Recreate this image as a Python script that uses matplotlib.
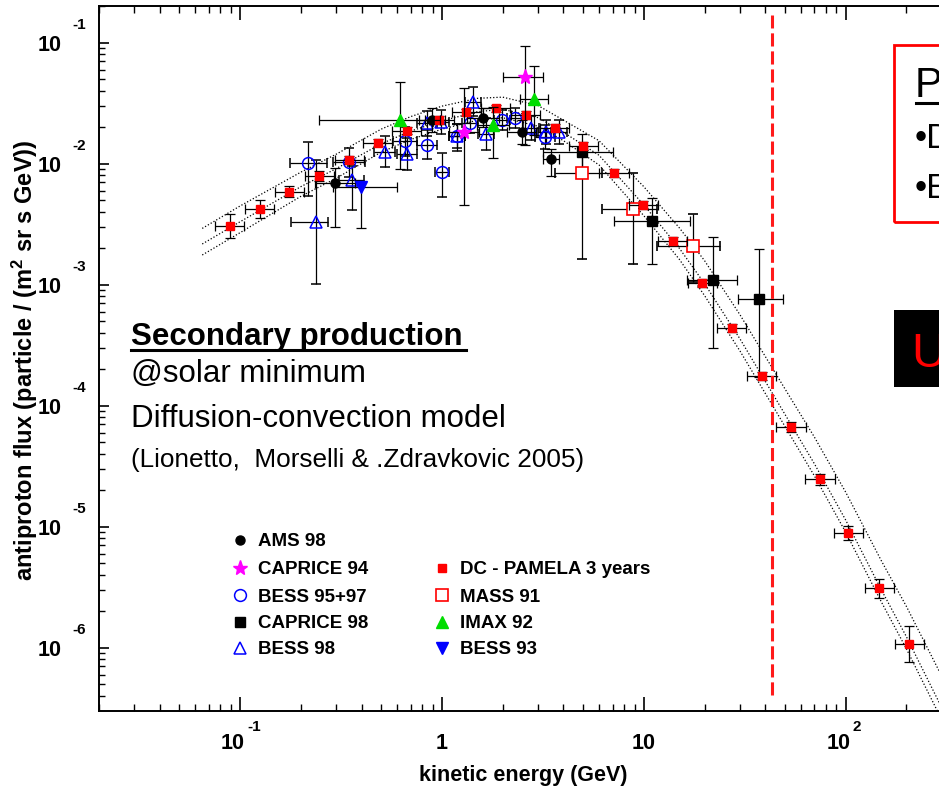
import numpy as np
import matplotlib
matplotlib.use('Agg')
import matplotlib.pyplot as plt
import matplotlib.ticker as mticker
from matplotlib import font_manager
from matplotlib.lines import Line2D
from matplotlib.patches import Rectangle

plt.rcParams['font.family'] = ['Liberation Sans', 'DejaVu Sans']
plt.rcParams['mathtext.fontset'] = 'custom'
plt.rcParams['mathtext.rm'] = 'Liberation Sans'
plt.rcParams['mathtext.bf'] = 'Liberation Sans:bold'
plt.rcParams['mathtext.default'] = 'bf'

# ── Model band (diffusion-convection, three dotted curves) ────────────────────
E_MODEL = [0.065, 0.1, 0.2, 0.3, 0.5, 0.7, 1.0, 1.5, 2.0, 3.0, 4.0, 6.0,
           10, 15, 20, 30, 50, 70, 100, 150, 200, 300, 500]
MODEL_UP = [2.92e-3, 4.47e-3, 8.51e-3, 1.20e-2, 1.93e-2, 2.45e-2, 2.99e-2, 3.47e-2,
            3.55e-2, 3.02e-2, 2.29e-2, 1.55e-2, 6.46e-3, 2.95e-3, 1.58e-3, 5.62e-4,
            1.38e-4, 5.5e-5, 1.93e-5, 5.25e-6, 2.19e-6, 5.75e-7, 1.05e-7]
MODEL_MID = [2.17e-3, 3.31e-3, 6.46e-3, 9.12e-3, 1.46e-2, 1.86e-2, 2.26e-2, 2.69e-2,
             2.82e-2, 2.40e-2, 1.82e-2, 1.175e-2, 4.57e-3, 2.0e-3, 1.02e-3, 3.55e-4,
             8.5e-5, 3.31e-5, 1.135e-5, 3.02e-6, 1.23e-6, 3.16e-7, 5.6e-8]
MODEL_LO = [1.76e-3, 2.69e-3, 5.37e-3, 7.59e-3, 1.245e-2, 1.585e-2, 1.93e-2, 2.29e-2,
            2.40e-2, 2.04e-2, 1.55e-2, 9.77e-3, 3.72e-3, 1.62e-3, 8.13e-4, 2.82e-4,
            6.76e-5, 2.63e-5, 9.0e-6, 2.40e-6, 9.77e-7, 2.51e-7, 4.47e-8]

# ── Data: energy (GeV), flux, errors in dex (lo / hi) ─────────────────────────
PAM_E = [0.089, 0.125, 0.175, 0.247, 0.347, 0.481, 0.669, 0.97, 1.32, 1.85, 2.60, 3.62,
         5.02, 7.12, 9.94, 13.9, 19.5, 27.3, 38.3, 53.6, 74.6, 103, 147, 206]
PAM_F = [3.07e-3, 4.22e-3, 5.87e-3, 7.96e-3, 1.07e-2, 1.49e-2, 1.87e-2, 2.30e-2,
         2.66e-2, 2.87e-2, 2.53e-2, 1.98e-2, 1.40e-2, 8.4e-3, 4.6e-3, 2.30e-3,
         1.03e-3, 4.4e-4, 1.76e-4, 6.7e-5, 2.46e-5, 8.9e-6, 3.1e-6, 1.07e-6]
PAM_XERR = [0.072, 0.072, 0.072, 0.072, 0.072, 0.072, 0.072, 0.072, 0.072, 0.072, 0.072, 0.072,
            0.072, 0.072, 0.072, 0.072, 0.072, 0.072, 0.072, 0.072, 0.072, 0.072, 0.072, 0.072]
PAM_YERR = [0.10, 0.075, 0.045, 0.04, 0.035, 0.03, 0.03, 0.03, 0.03, 0.03, 0.03, 0.03,
            0.03, 0.03, 0.03, 0.03, 0.035, 0.035, 0.035, 0.04, 0.045, 0.06, 0.08, 0.15]

AMS_E = [0.295, 0.896, 1.60, 2.48, 3.48]
AMS_F = [6.99e-3, 2.30e-2, 2.40e-2, 1.84e-2, 1.094e-2]
AMS_XERR = [0.10, 0.065, 0.08, 0.07, 0.04]
AMS_YLO = [0.37, 0.10, 0.08, 0.10, 0.14]
AMS_YHI = [0.12, 0.10, 0.08, 0.10, 0.08]

C94_E = [1.29, 2.58]
C94_F = [1.83e-2, 5.20e-2]
C94_XLO = [0.075, 0.11]
C94_XHI = [0.075, 0.09]
C94_YLO = [0.60, 0.56]
C94_YHI = [0.36, 0.26]

B9597_E = [0.218, 0.347, 0.656, 0.844, 1.0, 1.19, 1.38, 1.98, 2.30, 3.24]
B9597_F = [1.004e-2, 1.03e-2, 1.53e-2, 1.43e-2, 8.62e-3, 1.69e-2, 2.17e-2, 2.30e-2,
           2.39e-2, 1.66e-2]
B9597_XERR = [0.09, 0.08, 0.06, 0.05, 0.036, 0.04, 0.04, 0.04, 0.04, 0.05]
B9597_YLO = [0.27, 0.12, 0.12, 0.12, 0.21, 0.10, 0.08, 0.08, 0.08, 0.10]
B9597_YHI = [0.18, 0.12, 0.12, 0.12, 0.155, 0.10, 0.08, 0.08, 0.08, 0.10]

C98_E = [4.92, 11.0, 22.0, 37.2]
C98_F = [1.257e-2, 3.38e-3, 1.094e-3, 7.66e-4]
C98_XLO = [0.19, 0.19, 0.13, 0.105]
C98_XHI = [0.155, 0.187, 0.12, 0.12]
C98_YLO = [0.15, 0.36, 0.564, 0.645]
C98_YHI = [0.146, 0.19, 0.353, 0.413]

B98_E = [0.238, 0.357, 0.52, 0.672, 0.844, 0.99, 1.19, 1.43, 1.65, 2.76, 3.28, 3.80]
B98_F = [3.32e-3, 7.33e-3, 1.26e-2, 1.20e-2, 2.15e-2, 2.22e-2, 1.69e-2, 3.25e-2,
         1.76e-2, 1.98e-2, 1.83e-2, 1.84e-2]
B98_XLO = [0.124, 0.06, 0.05, 0.05, 0.05, 0.04, 0.04, 0.04, 0.04, 0.04, 0.04, 0.04]
B98_XHI = [0.06, 0.06, 0.05, 0.05, 0.05, 0.04, 0.04, 0.04, 0.04, 0.04, 0.04, 0.04]
B98_YLO = [0.515, 0.25, 0.13, 0.13, 0.10, 0.10, 0.12, 0.12, 0.13, 0.10, 0.10, 0.10]
B98_YHI = [0.51, 0.12, 0.13, 0.13, 0.10, 0.10, 0.10, 0.12, 0.13, 0.10, 0.10, 0.10]

MASS_E = [4.96, 8.87, 17.6]
MASS_F = [8.33e-3, 4.20e-3, 2.09e-3]
MASS_XLO = [0.135, 0.153, 0.18]
MASS_XHI = [0.096, 0.116, 0.133]
MASS_YLO = [0.71, 0.455, 0.30]
MASS_YHI = [0.19, 0.30, 0.264]

IMAX_E = [0.62, 1.79, 2.87]
IMAX_F = [2.30e-2, 2.09e-2, 3.42e-2]
IMAX_XLO = [0.40, 0.08, 0.07]
IMAX_XHI = [0.20, 0.08, 0.07]
IMAX_YLO = [0.405, 0.27, 0.30]
IMAX_YHI = [0.317, 0.15, 0.27]

B93_E = [0.397]
B93_F = [6.38e-3]
B93_XLO = [0.14]
B93_XHI = [0.178]
B93_YLO = [0.337]
B93_YHI = [0.044]

CUT_ENERGY = 43.2

XTICK_VALUES = [0.1, 1, 10, 100]
XTICK_BASE = ['10', '1', '10', '10']
XTICK_EXP = ['-1', '', '', '2']
YTICK_VALUES = [1e-1, 1e-2, 1e-3, 1e-4, 1e-5, 1e-6]
YTICK_EXP = ['-1', '-2', '-3', '-4', '-5', '-6']

LEGEND_LEFT = ['AMS 98', 'CAPRICE 94', 'BESS 95+97', 'CAPRICE 98', 'BESS 98']
LEGEND_RIGHT = ['DC - PAMELA 3 years', 'MASS 91', 'IMAX 92', 'BESS 93']

# ── Figure ─────────────────────────────────────────────────────────────────────
W, H = 939, 788
fig = plt.figure(figsize=(W / 100, H / 100), dpi=100)
AX_L, AX_R, AX_T, AX_B = 98.9, 986.8, 6.0, 710.7
ax = fig.add_axes([AX_L / W, 1 - AX_B / H, (AX_R - AX_L) / W, (AX_B - AX_T) / H])


def fx(px):
    return px / W


def fy(py):
    return 1 - py / H


ax.set_xscale('log')
ax.set_yscale('log')
ax.set_xlim(0.02, 500)
ax.set_ylim(3.015e-7, 0.2011)

ax.xaxis.set_major_locator(mticker.LogLocator(base=10, numticks=20))
ax.xaxis.set_minor_locator(mticker.LogLocator(base=10, subs=np.arange(2, 10), numticks=20))
ax.yaxis.set_major_locator(mticker.LogLocator(base=10, numticks=20))
ax.yaxis.set_minor_locator(mticker.LogLocator(base=10, subs=np.arange(2, 10), numticks=20))
ax.tick_params(axis='x', which='major', direction='in', length=10, width=1.2,
               top=True, bottom=True, labelbottom=False)
ax.tick_params(axis='x', which='minor', direction='in', length=5, width=1.0, top=True)
ax.tick_params(axis='y', which='major', direction='in', length=7, width=1.2,
               right=False, labelleft=False)
ax.tick_params(axis='y', which='minor', direction='in', length=4.5, width=1.0, right=False)
for sp in ax.spines.values():
    sp.set_linewidth(1.4)

# tick labels drawn by hand, "10" with raised exponent
for v, b, e in zip(XTICK_VALUES, XTICK_BASE, XTICK_EXP):
    if e:
        ax.annotate(b, xy=(v, 0), xycoords=('data', 'axes fraction'), xytext=(5, -30),
                    textcoords='offset pixels', ha='right', va='center_baseline',
                    fontsize=15.5, fontweight='bold')
        ax.annotate(e, xy=(v, 0), xycoords=('data', 'axes fraction'), xytext=(7, -15),
                    textcoords='offset pixels', ha='left', va='center_baseline',
                    fontsize=11, fontweight='bold')
    else:
        ax.annotate(b, xy=(v, 0), xycoords=('data', 'axes fraction'), xytext=(0, -30),
                    textcoords='offset pixels', ha='center', va='center_baseline',
                    fontsize=15.5, fontweight='bold')

for v, e in zip(YTICK_VALUES, YTICK_EXP):
    ax.annotate('10', xy=(0, v), xycoords=('axes fraction', 'data'), xytext=(-37, 0),
                textcoords='offset pixels', ha='right', va='center_baseline',
                fontsize=15.5, fontweight='bold')
    ax.annotate(e, xy=(0, v), xycoords=('axes fraction', 'data'), xytext=(-27, 19),
                textcoords='offset pixels', ha='left', va='center_baseline',
                fontsize=11, fontweight='bold')

fig.text(fx(523), fy(775), 'kinetic energy (GeV)', ha='center', va='center',
         fontsize=15.5, fontweight='bold')
fig.text(fx(25), fy(360), 'antiproton flux (particle / (m$^{2}$ sr s GeV))', rotation=90,
         ha='center', va='center', fontsize=17, fontweight='bold')

# ── Model curves ─────────────────────────────────────────────────────────────
for curve in (MODEL_UP, MODEL_MID, MODEL_LO):
    ax.plot(E_MODEL, curve, color='black', lw=0.9, ls=(0, (1, 1.6)), zorder=2)


def draw(E, F, xlo, xhi, ylo, yhi, z=4, **style):
    E = np.array(E)
    F = np.array(F)
    xerr = [E - E / 10 ** np.array(xlo), E * 10 ** np.array(xhi) - E]
    yerr = [F - F / 10 ** np.array(ylo), F * 10 ** np.array(yhi) - F]
    ax.errorbar(E, F, xerr=xerr, yerr=yerr, linestyle='none', ecolor='black',
                elinewidth=0.9, capsize=3.5, capthick=0.9, zorder=z, **style)


STY_AMS = dict(marker='o', ms=6.5, mfc='black', mec='black')
STY_C94 = dict(marker='*', ms=11, mfc='#ff00ff', mec='#ff00ff')
STY_B9597 = dict(marker='o', ms=8.5, mfc='none', mec='#0000ff', mew=1.1)
STY_C98 = dict(marker='s', ms=6.5, mfc='black', mec='black')
STY_B98 = dict(marker='^', ms=8.5, mfc='none', mec='#0000ff', mew=1.1)
STY_PAM = dict(marker='s', ms=6, mfc='#ff0000', mec='#ff0000')
STY_MASS = dict(marker='s', ms=8, mfc='white', mec='#ff0000', mew=1.2)
STY_IMAX = dict(marker='^', ms=9, mfc='#00dd00', mec='#00dd00')
STY_B93 = dict(marker='v', ms=9, mfc='#0000ff', mec='#0000ff')

draw(B98_E, B98_F, B98_XLO, B98_XHI, B98_YLO, B98_YHI, z=3, **STY_B98)
draw(B9597_E, B9597_F, B9597_XERR, B9597_XERR, B9597_YLO, B9597_YHI, z=3, **STY_B9597)
draw(AMS_E, AMS_F, AMS_XERR, AMS_XERR, AMS_YLO, AMS_YHI, **STY_AMS)
draw(C98_E, C98_F, C98_XLO, C98_XHI, C98_YLO, C98_YHI, **STY_C98)
draw(MASS_E, MASS_F, MASS_XLO, MASS_XHI, MASS_YLO, MASS_YHI, **STY_MASS)
draw(B93_E, B93_F, B93_XLO, B93_XHI, B93_YLO, B93_YHI, **STY_B93)
draw(PAM_E, PAM_F, PAM_XERR, PAM_XERR, PAM_YERR, PAM_YERR, z=5, **STY_PAM)
draw(IMAX_E, IMAX_F, IMAX_XLO, IMAX_XHI, IMAX_YLO, IMAX_YHI, z=6, **STY_IMAX)
draw(C94_E, C94_F, C94_XLO, C94_XHI, C94_YLO, C94_YHI, z=6, **STY_C94)

ax.axvline(CUT_ENERGY, ymin=0.022, ymax=0.987, color='#ff1a1a', lw=2.2,
           dashes=(4.3, 1.6), zorder=7)

# ── Legend (two columns, hand placed) ────────────────────────────────────────
left_rows = [540, 568, 595, 621.5, 647.5]
right_rows = [568, 595, 621.5, 647.5]
left_sty = [STY_AMS, STY_C94, STY_B9597, STY_C98, STY_B98]
right_sty = [STY_PAM, STY_MASS, STY_IMAX, STY_B93]
for lab, row, st in zip(LEGEND_LEFT, left_rows, left_sty):
    ax.plot([fx(240)], [fy(row)], transform=fig.transFigure, clip_on=False, ls='none', **st)
    fig.text(fx(258), fy(row), lab, ha='left', va='center_baseline',
             fontsize=13.5, fontweight='bold')
for lab, row, st in zip(LEGEND_RIGHT, right_rows, right_sty):
    ax.plot([fx(441.5)], [fy(row)], transform=fig.transFigure, clip_on=False, ls='none', **st)
    fig.text(fx(460), fy(row), lab, ha='left', va='center_baseline',
             fontsize=13.5, fontweight='bold')

# ── Slide annotations ───────────────────────────────────────────────────────
fig.text(fx(131), fy(345), 'Secondary production', ha='left', va='baseline',
         fontsize=22.5, fontweight='bold')
fig.add_artist(Line2D([fx(131), fx(466)], [fy(350), fy(350)], color='black', lw=2.2))
fig.text(fx(131), fy(382), '@solar minimum', ha='left', va='baseline', fontsize=22.5)
fig.text(fx(131), fy(426.7), 'Diffusion-convection model', ha='left', va='baseline',
         fontsize=22.5)

try:
    font_manager.findfont('Liberation Sans Narrow', fallback_to_default=False)
    cite_font, cite_size = ['Liberation Sans Narrow'], 22
except ValueError:
    cite_font, cite_size = ['Liberation Sans'], 18.8
fig.text(fx(131), fy(466.7), '(Lionetto,  Morselli & .Zdravkovic 2005)', ha='left',
         va='baseline', fontsize=cite_size, family=cite_font)

# right-hand boxes, cut by the slide edge
fig.add_artist(Rectangle((fx(894), fy(222.3)), fx(1100) - fx(894), (222.3 - 45) / H,
                         transform=fig.transFigure, fill=False, edgecolor='#ff0000', lw=2))
fig.text(fx(915), fy(96.7), 'P', ha='left', va='baseline', fontsize=30)
fig.add_artist(Line2D([fx(916), fx(960)], [fy(103), fy(103)], color='black', lw=2.2))
fig.text(fx(915), fy(148.3), '\u2022D', ha='left', va='baseline', fontsize=25)
fig.text(fx(915), fy(198.3), '\u2022E', ha='left', va='baseline', fontsize=25)

fig.add_artist(Rectangle((fx(894.3), fy(386.7)), fx(1100) - fx(894.3), (386.7 - 310) / H,
                         transform=fig.transFigure, facecolor='black', edgecolor='none'))
fig.text(fx(911), fy(366.7), 'U', ha='left', va='baseline', fontsize=35, color='#ff0000')

fig.savefig('out.png', dpi=100)
plt.close(fig)
